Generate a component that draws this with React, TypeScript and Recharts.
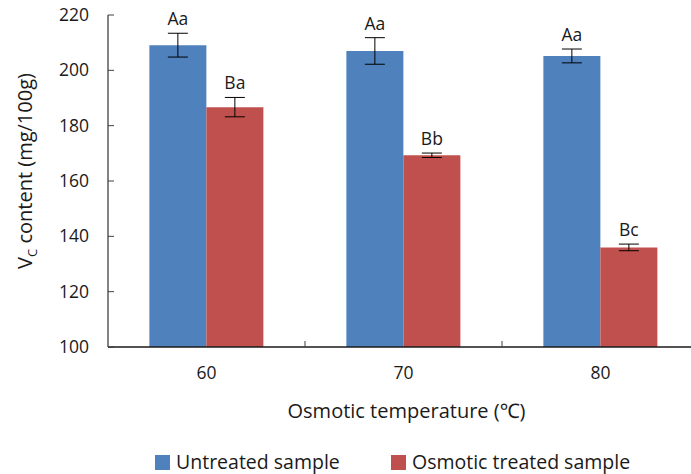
import React from "react";
import { BarChart, Bar, XAxis, YAxis, ErrorBar, LabelList, Legend } from "recharts";

const categories = ["60", "70", "80"];
const untreated = [209.1, 207.0, 205.2];
const untreatedErr = [4.3, 4.8, 2.5];
const osmotic = [186.7, 169.3, 136.0];
const osmoticErr = [3.5, 0.8, 1.2];
const untreatedLetters = ["Aa", "Aa", "Aa"];
const osmoticLetters = ["Ba", "Bb", "Bc"];
const yTicks = [100, 120, 140, 160, 180, 200, 220];

const data = categories.map((c, i) => ({
  cat: c,
  untreated: untreated[i],
  untreatedErr: untreatedErr[i],
  osmotic: osmotic[i],
  osmoticErr: osmoticErr[i],
}));

const FONT = "'Open Sans', 'Noto Sans', sans-serif";
const BLUE = "#4F81BD";
const RED = "#C0504D";
const TXT = "#1a1a1a";
const BASE = 100;

const makeLetterLabel = (letters: string[], errs: number[], vals: number[]) => (props: any) => {
  const { x, y, width, height, index } = props;
  const pxPerUnit = height / (vals[index] - BASE);
  const top = y - errs[index] * pxPerUnit;
  return (
    <text x={x + width / 2} y={top - 8} textAnchor="middle" fontFamily={FONT} fontSize={17.5} fill={TXT}>
      {letters[index]}
    </text>
  );
};

const YTick = (props: any) => {
  const { x, y, payload } = props;
  return (
    <g>
      <line x1={x} x2={x + 6} y1={y} y2={y} stroke="#404040" strokeWidth={1} />
      <text x={x - 19} y={y + 6} textAnchor="end" fontFamily={FONT} fontSize={17.5} fill={TXT}>
        {payload.value}
      </text>
    </g>
  );
};

const XTick = (props: any) => {
  const { x, y, payload, width, visibleTicksCount } = props;
  const band = width && visibleTicksCount ? width / visibleTicksCount : 197;
  const bx = x + band / 2;
  return (
    <g>
      <line x1={bx} x2={bx} y1={y} y2={y - 6} stroke="#404040" strokeWidth={1} />
      <text x={x} y={y + 32} textAnchor="middle" fontFamily={FONT} fontSize={17.5} fill={TXT}>
        {payload.value}
      </text>
    </g>
  );
};

const YTitle = (props: any) => {
  const vb = props.viewBox || { x: 0, y: 15, width: 108, height: 332 };
  const cx = vb.x + 25;
  const cy = vb.y + vb.height / 2 - 10;
  return (
    <text
      x={cx}
      y={cy + 7}
      transform={`rotate(-90, ${cx}, ${cy})`}
      textAnchor="middle"
      fontFamily={FONT}
      fontSize={20}
      fill={TXT}
    >
      <tspan>V</tspan>
      <tspan fontSize={13} dy={5}>C</tspan>
      <tspan dy={-5}> content (mg/100g)</tspan>
    </text>
  );
};

const XTitle = (props: any) => {
  const vb = props.viewBox || { x: 108, y: 347, width: 591, height: 80 };
  return (
    <text x={vb.x + vb.width / 2 + 3} y={vb.y + 71} textAnchor="middle" fontFamily={FONT} fontSize={20} fill={TXT}>
      Osmotic temperature (℃)
    </text>
  );
};

const LegendContent = () => (
  <div
    style={{
      display: "flex",
      alignItems: "center",
      paddingTop: 25,
      paddingLeft: 155,
      fontFamily: FONT,
      fontSize: 19.5,
      color: TXT,
      lineHeight: "20px",
    }}
  >
    <div style={{ display: "flex", alignItems: "center", width: 236 }}>
      <span style={{ width: 15, height: 15, background: BLUE, display: "inline-block", marginRight: 6 }} />
      <span>Untreated sample</span>
    </div>
    <div style={{ display: "flex", alignItems: "center" }}>
      <span style={{ width: 15, height: 15, background: RED, display: "inline-block", marginRight: 6 }} />
      <span>Osmotic treated sample</span>
    </div>
  </div>
);

export default function App() {
  return (
    <div style={{ position: "absolute", left: 0, top: 0, width: 691, height: 474, overflow: "hidden", background: "#fff" }}>
      <BarChart
        width={708}
        height={474}
        data={data}
        margin={{ top: 15, right: 9, left: 0, bottom: 0 }}
        barCategoryGap="21%"
        barGap={0}
      >
        <XAxis
          dataKey="cat"
          height={80}
          tickLine={false}
          tickSize={0}
          tickMargin={0}
          axisLine={{ stroke: "#1a1a1a", strokeWidth: 1.3 }}
          tick={<XTick />}
          interval={0}
          label={{ content: <XTitle /> } as any}
        />
        <YAxis
          width={108}
          domain={[100, 220]}
          ticks={yTicks}
          allowDataOverflow
          tickLine={false}
          tickSize={0}
          tickMargin={0}
          axisLine={{ stroke: "#404040", strokeWidth: 1.3 }}
          tick={<YTick />}
          interval={0}
          label={{ content: <YTitle /> } as any}
        />
        <Legend verticalAlign="bottom" height={47} content={<LegendContent />} />
        <Bar dataKey="untreated" fill={BLUE} isAnimationActive={false}>
          <ErrorBar dataKey="untreatedErr" width={10} stroke="#000" strokeWidth={1} />
          <LabelList dataKey="untreated" content={makeLetterLabel(untreatedLetters, untreatedErr, untreated)} />
        </Bar>
        <Bar dataKey="osmotic" fill={RED} isAnimationActive={false}>
          <ErrorBar dataKey="osmoticErr" width={10} stroke="#000" strokeWidth={1} />
          <LabelList dataKey="osmotic" content={makeLetterLabel(osmoticLetters, osmoticErr, osmotic)} />
        </Bar>
      </BarChart>
    </div>
  );
}
